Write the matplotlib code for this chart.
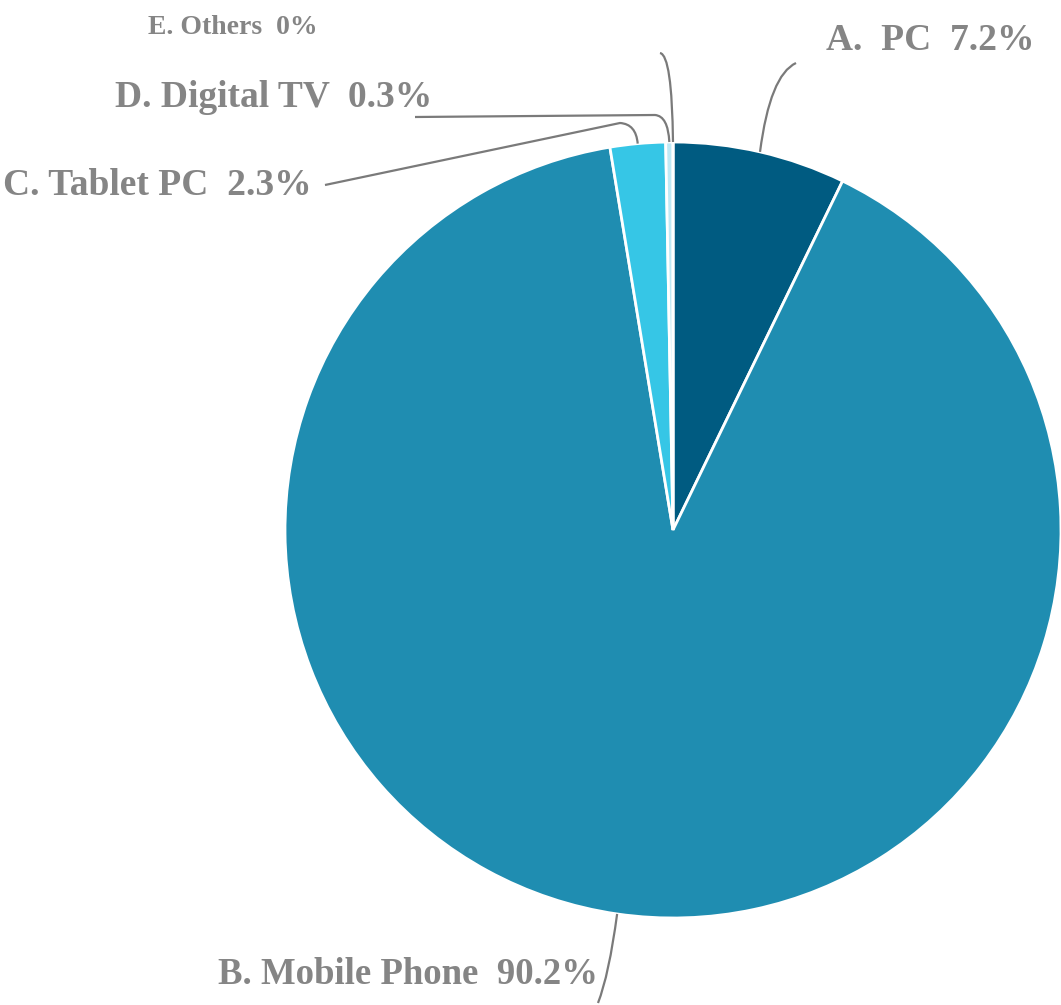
import matplotlib
matplotlib.use("Agg")
import matplotlib.pyplot as plt
import numpy as np
from matplotlib.path import Path
from matplotlib.patches import PathPatch

# Share of devices used to access the internet
categories = ["A.  PC", "B. Mobile Phone", "C. Tablet PC", "D. Digital TV", "E. Others"]
shares = [7.2, 90.2, 2.3, 0.3, 0.0]
share_labels = ["7.2%", "90.2%", "2.3%", "0.3%", "0%"]
colors = ["#005b81", "#1f8db1", "#36c6e6", "#bfe9f5", "#e6f7fb"]

W, H = 1061, 1005
fig = plt.figure(figsize=(W / 100, H / 100), dpi=100)
ax = fig.add_axes([0, 0, 1, 1])

cx, cy, R = 673, 475, 388
wedges, _ = ax.pie(shares, colors=colors, startangle=90, counterclock=False,
                   center=(cx, cy), radius=R, frame=True,
                   wedgeprops=dict(edgecolor="white", linewidth=2))
ax.set_xlim(0, W)
ax.set_ylim(0, H)
ax.set_aspect("equal")
ax.axis("off")

text_color = "#858585"
line_color = "#7a7a7a"

# label placement and the leader-line bend points for each slice
label_layout = [
    dict(xy=(826, H - 40), ha="left", size=27,
         bend=[(770, H - 75), (796, H - 63)]),
    dict(xy=(598, H - 975), ha="right", size=26.5,
         bend=[(609, H - 975), (598, H - 1003)]),
    dict(xy=(312, H - 185), ha="right", size=27,
         bend=[(636, H - 124), (620, H - 123), (325, H - 185)]),
    dict(xy=(432, H - 97), ha="right", size=27,
         bend=[(668, H - 116), (655, H - 115), (415, H - 117)]),
    dict(xy=(318, H - 27), ha="right", size=20,
         bend=[(672, H - 55), (660, H - 53)]),
]

font_family = ["Liberation Serif", "DejaVu Serif"]

start = 90.0
for cat, val, lab, lay in zip(categories, shares, share_labels, label_layout):
    span = val * 3.6
    mid = np.deg2rad(start - span / 2)
    start -= span
    ax_ = cx + R * np.cos(mid)
    ay_ = cy + R * np.sin(mid)
    pts = [(ax_, ay_)] + lay["bend"]
    if len(pts) == 3:
        codes = [Path.MOVETO, Path.CURVE3, Path.CURVE3]
    else:
        codes = [Path.MOVETO, Path.CURVE3, Path.CURVE3, Path.LINETO]
    ax.add_patch(PathPatch(Path(pts, codes), facecolor="none",
                           edgecolor=line_color, linewidth=1.6, zorder=3))
    ax.text(*lay["xy"], f"{cat}  {lab}", ha=lay["ha"], va="center",
            fontsize=lay["size"], family=font_family, fontweight="bold",
            color=text_color)

fig.savefig("out.png", dpi=100, facecolor="white")
